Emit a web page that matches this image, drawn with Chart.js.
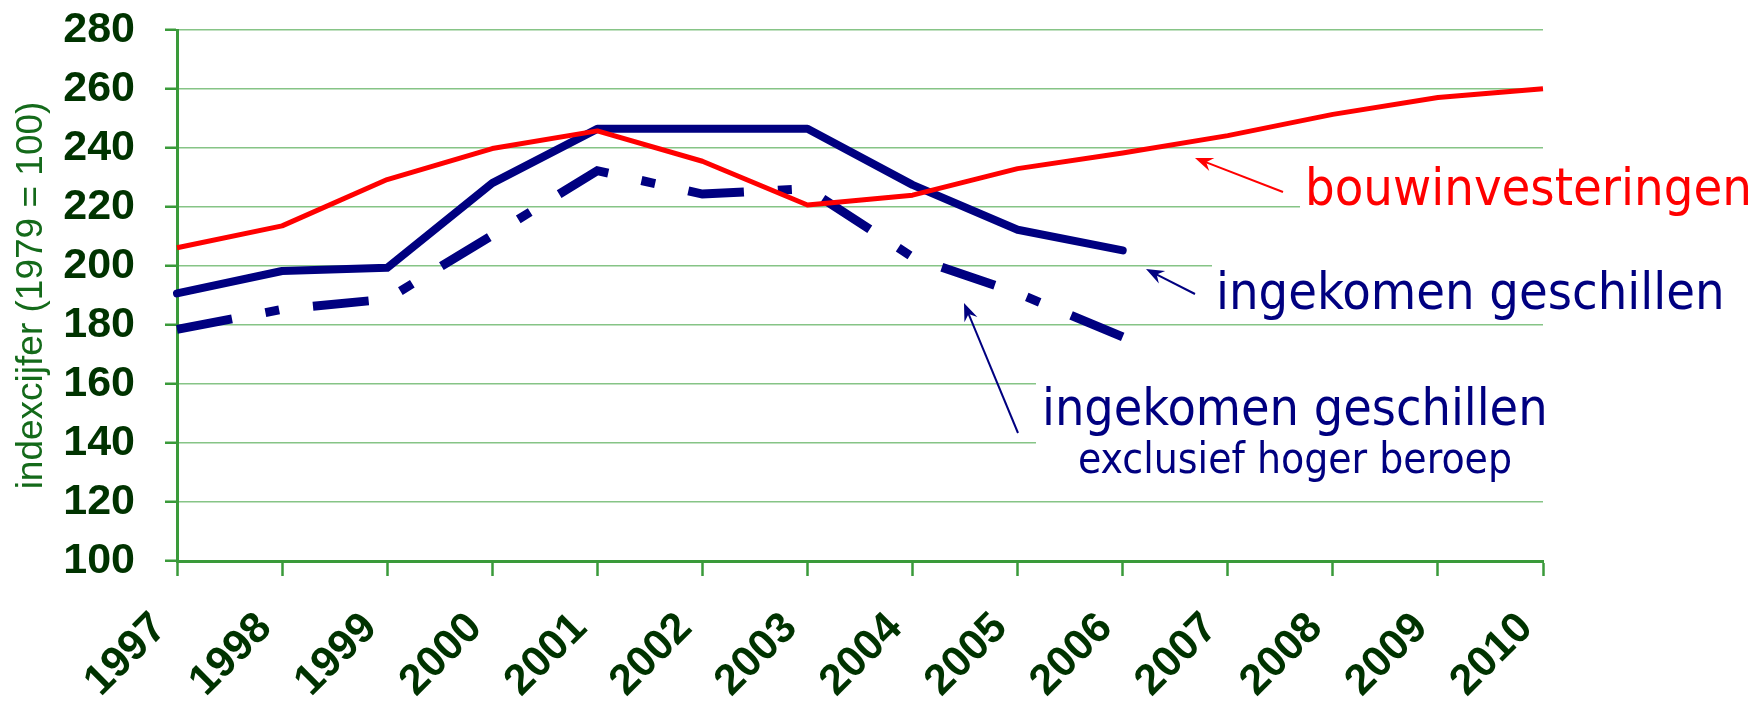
<!DOCTYPE html>
<html>
<head>
<meta charset="utf-8">
<title>indexcijfer</title>
<script src="https://cdn.jsdelivr.net/npm/chart.js@4.4.1/dist/chart.umd.min.js"></script>
<style>
html, body { margin:0; padding:0; background:#fff; }
#wrap { width:1759px; height:702px; }
</style>
</head>
<body>
<div id="wrap"><canvas id="myChart" width="1759" height="702"></canvas></div>
<script>
'use strict'
let years = ['1997','1998','1999','2000','2001','2002','2003','2004','2005','2006','2007','2008','2009','2010'];
let bouwinvesteringen = [206.2, 213.6, 229.3, 239.8, 245.8, 235.5, 220.7, 224, 233, 238.3, 244.2, 251.4, 257.1, 260.1];
let geschillen = [190.7, 198.3, 199.4, 228.1, 246.5, 246.5, 246.5, 227.5, 212.3, 205.3, null, null, null, null];
let geschillenExcl = [178.5, 185.3, 188.8, 210.4, 232.3, 224.4, 226.2, 203, 190.8, 176, null, null, null, null];
let yMin = 100, yMax = 280, yStep = 20;

let darkGreen = '#003300';
let axisGreen = '#3a9a3a';
let gridGreen = '#86c486';
let navy = '#000080';
let red = '#ff0000';
let tickFont = { family: "'Liberation Sans', Arial, sans-serif", size: 43, weight: 'bold' };

// fit a text into a given width, returns the font string
function fitFont(ctx, text, width, family){
    let size = 40;
    ctx.font = size + 'px ' + family;
    let w = ctx.measureText(text).width;
    size = size * width / w;
    return size.toFixed(1) + 'px ' + family;
}

function arrow(ctx, x1, y1, x2, y2, color){
    let ang = Math.atan2(y2 - y1, x2 - x1);
    let len = 18, half = 7;
    ctx.save();
    ctx.strokeStyle = color;
    ctx.fillStyle = color;
    ctx.lineWidth = 2;
    ctx.beginPath();
    ctx.moveTo(x1, y1);
    ctx.lineTo(x2 - Math.cos(ang) * 10, y2 - Math.sin(ang) * 10);
    ctx.stroke();
    ctx.translate(x2, y2);
    ctx.rotate(ang);
    ctx.beginPath();
    ctx.moveTo(0, 0);
    ctx.lineTo(-len, -half);
    ctx.lineTo(-len + 6, 0);
    ctx.lineTo(-len, half);
    ctx.closePath();
    ctx.fill();
    ctx.restore();
}

let labelFamily = "'DejaVu Sans Condensed', 'DejaVu Sans', sans-serif";

let notesPlugin = {
    id: 'notes',
    beforeDatasetsDraw(chart){
        let ctx = chart.ctx;
        ctx.save();
        ctx.fillStyle = '#ffffff';
        ctx.fillRect(1300, 165, 459, 57);
        ctx.fillRect(1212, 245, 547, 73);
        ctx.fillRect(1036, 360, 530, 130);
        ctx.restore();
    },
    afterDatasetsDraw(chart){
        let ctx = chart.ctx;
        ctx.save();
        ctx.textBaseline = 'alphabetic';
        ctx.textAlign = 'left';

        ctx.fillStyle = red;
        ctx.font = fitFont(ctx, 'bouwinvesteringen', 447, labelFamily);
        ctx.fillText('bouwinvesteringen', 1305, 205);

        ctx.fillStyle = navy;
        ctx.font = fitFont(ctx, 'ingekomen geschillen', 509, labelFamily);
        ctx.fillText('ingekomen geschillen', 1216, 309);

        ctx.font = fitFont(ctx, 'ingekomen geschillen', 506, labelFamily);
        ctx.fillText('ingekomen geschillen', 1042, 425);

        ctx.font = fitFont(ctx, 'exclusief hoger beroep', 434, labelFamily);
        ctx.fillText('exclusief hoger beroep', 1078, 473);
        ctx.restore();

        arrow(ctx, 1283, 192, 1195, 158, red);
        arrow(ctx, 1195, 294, 1146, 269, navy);
        arrow(ctx, 1018, 433, 964, 303, navy);
    }
};

let ctx = document.getElementById('myChart').getContext('2d');
let myChart = new Chart(ctx, {
    type: 'line',
    data: {
        labels: years,
        datasets: [{
            label: 'bouwinvesteringen',
            data: bouwinvesteringen,
            borderColor: red,
            borderWidth: 5,
            pointRadius: 0,
            tension: 0,
            borderJoinStyle: 'round',
            fill: false
        },{
            label: 'ingekomen geschillen',
            data: geschillen,
            borderColor: navy,
            borderWidth: 8,
            pointRadius: 0,
            tension: 0,
            borderCapStyle: 'round',
            borderJoinStyle: 'round',
            fill: false
        },{
            label: 'ingekomen geschillen exclusief hoger beroep',
            data: geschillenExcl,
            borderColor: navy,
            borderWidth: 9,
            borderDash: [56, 34, 14, 34],
            borderCapStyle: 'butt',
            pointRadius: 0,
            tension: 0,
            fill: false
        }]
    },
    options: {
        responsive: false,
        animation: false,
        devicePixelRatio: 1,
        layout: { padding: { left: 0, top: 30, right: 216, bottom: 0 } },
        plugins: {
            legend: { display: false },
            tooltip: { enabled: false }
        },
        scales: {
            x: {
                grid: {
                    drawOnChartArea: false,
                    drawTicks: true,
                    tickLength: 15,
                    tickColor: axisGreen,
                    tickWidth: 2.5
                },
                border: { color: axisGreen, width: 3 },
                ticks: {
                    color: darkGreen,
                    font: tickFont,
                    minRotation: 45,
                    maxRotation: 45,
                    autoSkip: false,
                    padding: 27,
                    labelOffset: -17
                },
                afterFit(scale){ scale.height = 141; }
            },
            y: {
                min: yMin,
                max: yMax,
                grid: {
                    color: gridGreen,
                    lineWidth: 1.5,
                    tickLength: 12,
                    tickColor: axisGreen,
                    tickWidth: 2.5
                },
                border: { color: axisGreen, width: 3 },
                ticks: {
                    stepSize: yStep,
                    color: darkGreen,
                    font: tickFont,
                    padding: 30
                },
                title: {
                    display: true,
                    text: 'indexcijfer (1979 = 100)',
                    color: '#146a1a',
                    font: { family: "'Liberation Sans', Arial, sans-serif", size: 37, weight: 'normal' },
                    padding: { top: 10, bottom: 0 }
                },
                afterFit(scale){
                    scale.width = 177;
                    scale.paddingTop = 0;
                    scale.paddingBottom = 0;
                }
            }
        }
    },
    plugins: [notesPlugin]
});
</script>
</body>
</html>
